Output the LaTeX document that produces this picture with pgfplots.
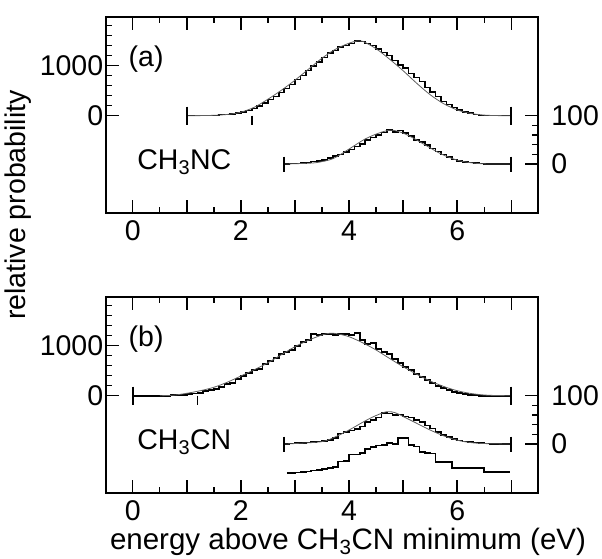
\documentclass[border=0pt]{standalone}
\usepackage{fontspec}
\setmainfont{Liberation Sans}
\usepackage{pgfplots}
\pgfplotsset{compat=1.18}

% histograms: bin left edges, 0.1 eV bins
\pgfplotstableread{
x y
1.0 0
1.6 20
1.7 25
1.8 35
1.9 50
2.0 75
2.1 100
2.2 140
2.3 190
2.4 250
2.5 320
2.6 380
2.7 460
2.8 540
2.9 620
3.0 720
3.1 800
3.2 900
3.3 990
3.4 1070
3.5 1160
3.6 1250
3.7 1300
3.8 1370
3.9 1400
4.0 1440
4.1 1490
4.2 1480
4.3 1440
4.4 1400
4.5 1330
4.6 1260
4.7 1200
4.8 1100
4.9 1010
5.0 950
5.1 840
5.2 760
5.3 680
5.4 560
5.5 470
5.6 380
5.7 280
5.8 220
5.9 160
6.0 110
6.1 75
6.2 50
6.3 20
6.4 0
7.0 0
}\histA
\pgfplotstableread{
x y
1.0 0
1.25 2
1.5 8
1.75 25
2.0 70
2.25 170
2.5 330
2.75 510
3.0 710
3.25 930
3.5 1150
3.75 1330
4.0 1450
4.15 1495
4.25 1490
4.5 1340
4.75 1130
5.0 900
5.25 650
5.5 420
5.75 240
6.0 115
6.25 45
6.5 12
6.75 2
7.0 0
}\fitA
\pgfplotstableread{
x y
2.8 0
2.9 1
3.0 1
3.1 2
3.2 3
3.3 5
3.4 6
3.5 8
3.6 13
3.7 17
3.8 20
3.9 25
4.0 30
4.1 36
4.2 42
4.3 50
4.4 55
4.5 60
4.6 65
4.7 71
4.8 66
4.9 69
5.0 64
5.1 58
5.2 50
5.3 45
5.4 40
5.5 32
5.6 26
5.7 20
5.8 14
5.9 9
6.0 6
6.1 4
6.2 3
6.3 2
6.4 1
6.5 0
7.0 0
}\histAlow
\pgfplotstableread{
x y
2.8 0
3.1 1
3.4 3
3.7 11
4.0 31
4.3 52
4.6 66
4.8 70
5.0 64
5.2 53
5.4 40
5.7 21
6.0 8
6.3 2
6.6 0
7.0 0
}\fitAlow
\pgfplotstableread{
x y
0.0 0
0.7 10
0.8 15
0.9 20
1.0 40
1.1 45
1.2 60
1.3 90
1.4 120
1.5 140
1.6 170
1.7 230
1.8 260
1.9 340
2.0 400
2.1 450
2.2 520
2.3 540
2.4 640
2.5 700
2.6 760
2.7 830
2.8 880
2.9 920
3.0 1000
3.1 1080
3.2 1120
3.3 1240
3.4 1220
3.5 1230
3.6 1240
3.7 1220
3.8 1240
3.9 1240
4.0 1210
4.1 1250
4.2 1120
4.3 1040
4.4 1050
4.5 940
4.6 870
4.7 840
4.8 740
4.9 650
5.0 580
5.1 520
5.2 440
5.3 370
5.4 310
5.5 260
5.6 200
5.7 160
5.8 110
5.9 70
6.0 50
6.1 30
6.2 20
6.3 10
6.4 0
7.0 0
}\histB
\pgfplotstableread{
x y
0.5 0
0.75 10
1.0 48
1.25 100
1.5 168
1.75 270
2.0 394
2.25 520
2.5 660
2.75 820
3.0 980
3.25 1110
3.5 1214
3.65 1250
3.8 1235
4.0 1180
4.25 1060
4.5 914
4.75 745
5.0 580
5.25 430
5.5 294
5.75 185
6.0 100
6.25 45
6.5 14
6.75 3
7.0 0
}\fitB
\pgfplotstableread{
x y
2.8 0
2.9 1
3.0 2
3.1 2
3.2 3
3.3 4
3.4 5
3.5 6
3.6 8
3.7 13
3.8 22
3.9 25
4.0 28
4.1 31
4.2 36
4.3 45
4.4 50
4.5 55
4.6 64
4.7 63
4.8 60
4.9 61
5.0 57
5.1 55
5.2 50
5.3 45
5.4 38
5.5 32
5.6 25
5.7 19
5.8 15
5.9 10
6.0 7
6.1 5
6.2 4
6.3 3
6.4 2
6.5 1
6.6 0
7.0 0
}\histBlow
\pgfplotstableread{
x y
2.8 0
3.0 1
3.5 5
3.75 15
4.0 29
4.3 48
4.5 59
4.7 67
4.85 65
5.0 57
5.25 43
5.5 29
5.75 17
6.0 8
6.25 3
6.5 1
7.0 0
}\fitBlow
\pgfplotstableread{
x y
2.85 -60
2.9 -60
3.0 -59
3.1 -58
3.2 -57
3.3 -55
3.4 -54
3.5 -52
3.6 -50
3.7 -47
3.8 -36
3.9 -35
4.0 -22
4.1 -22
4.2 -18
4.3 -10
4.4 -6
4.5 -3
4.6 -2
4.7 2
4.8 0
4.9 12
5.0 12
5.1 -2
5.2 -5
5.3 -16
5.4 -18
5.5 -20
5.6 -37
5.7 -37
5.8 -37
5.9 -50
6.0 -50
6.1 -50
6.2 -50
6.3 -50
6.4 -50
6.5 -58
6.97 -58
}\histBthird

\pgfplotsset{
  panel/.style={
    scale only axis, width=432.6pt, height=196.6pt,
    anchor=north west,
    xmin=-0.5, xmax=7.5,
    tick align=inside,
    major tick length=13pt, minor tick length=6.5pt,
    tick style={line width=1.4pt, black},
    axis line style={line width=1.7pt},
    clip=false,
  },
  leftax/.style={
    panel,
    ymin=-1952, ymax=1980,
    xtick={0,1,...,7}, xticklabels={0,,2,,4,,6,},
    minor x tick num=1, xtick pos=both,
    xticklabel style={yshift=-4pt},
    ytick={0,1000}, yticklabels={0,1000},
    minor ytick={200,400,600,800,1200,1400,1600,1800},
    ytick pos=left,
    yticklabel style={xshift=1pt},
  },
  rightax/.style={
    panel,
    ymin=-102, ymax=305,
    hide x axis,
    axis y line*=right,
    ytick={0,100}, yticklabels={0,100},
    minor ytick={20,40,60,80},
    yticklabel style={xshift=9.5pt},
  },
  hist/.style={black, line width=1.6pt, const plot, mark=none},
  bar/.style={black, line width=1.6pt, mark=none},
  fit/.style={gray!75!black, line width=0.8pt, smooth, mark=none},
}

\begin{document}
\begin{tikzpicture}[font=\fontsize{28.5}{34}\selectfont]
\path[use as bounding box] (0,0) rectangle (602pt,-559pt);

% ---------- panel (a) ----------
\begin{axis}[leftax, at={(105.7pt,-16.7pt)}]
  \addplot[hist] table {\histA};
  \addplot[fit] table {\fitA};
  \addplot[bar] coordinates {(1,180) (1,-180)};
  \addplot[bar] coordinates {(7,180) (7,-180)};
  \addplot[bar] coordinates {(2.2,0) (2.2,-190)};
  \node[anchor=base west] at (axis cs:-0.14,980) {(a)};
  \node[anchor=base west] at (axis cs:0.02,-1066) {CH\textsubscript{3}NC};
\end{axis}
\begin{axis}[rightax, at={(105.7pt,-16.7pt)}]
  \addplot[hist] table {\histAlow};
  \addplot[fit] table {\fitAlow};
  \addplot[bar] coordinates {(2.8,15.5) (2.8,-15.5)};
  \addplot[bar] coordinates {(7,15.5) (7,-15.5)};
\end{axis}

% ---------- panel (b) ----------
\begin{axis}[leftax, at={(105.7pt,-296.7pt)}]
  \addplot[hist] table {\histB};
  \addplot[fit] table {\fitB};
  \addplot[bar] coordinates {(0,180) (0,-180)};
  \addplot[bar] coordinates {(7,180) (7,-180)};
  \addplot[bar] coordinates {(1.2,0) (1.2,-190)};
  \node[anchor=base west] at (axis cs:-0.14,980) {(b)};
  \node[anchor=base west] at (axis cs:0.02,-1066) {CH\textsubscript{3}CN};
\end{axis}
\begin{axis}[rightax, at={(105.7pt,-296.7pt)}]
  \addplot[hist] table {\histBlow};
  \addplot[fit] table {\fitBlow};
  \addplot[bar] coordinates {(2.8,15.5) (2.8,-15.5)};
  \addplot[bar] coordinates {(7,15.5) (7,-15.5)};
  \addplot[hist] table {\histBthird};
\end{axis}

\node[rotate=90] at (18pt,-205pt) {relative probability};
\node[anchor=base, font=\fontsize{29.5}{34}\selectfont] at (348pt,-549pt)
  {energy above CH\textsubscript{3}CN minimum (eV)};
\end{tikzpicture}
\end{document}
